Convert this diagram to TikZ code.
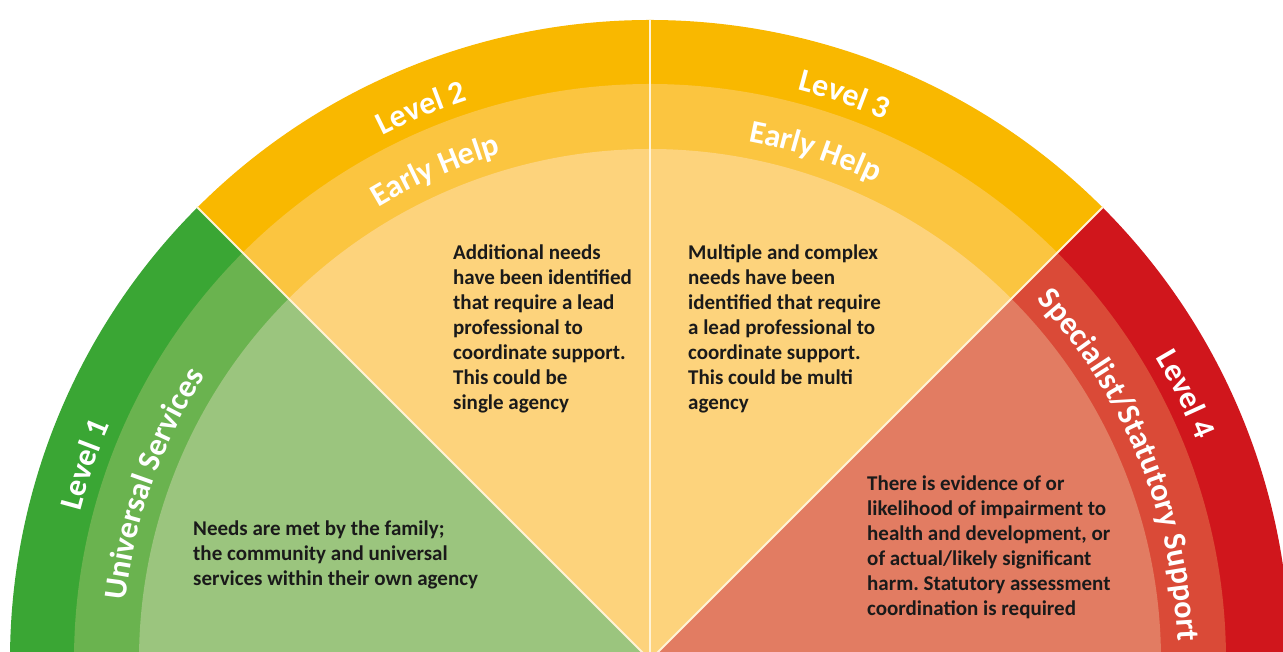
\documentclass[tikz,border=0pt]{standalone}
\usepackage{fontspec}
\setmainfont{Carlito}
\newfontfamily\bodyfont{Carlito}
\usetikzlibrary{decorations.text}

\definecolor{gOut}{HTML}{3AA634}
\definecolor{gMid}{HTML}{6AB34F}
\definecolor{gIn}{HTML}{9BC57E}
\definecolor{yOut}{HTML}{F9B800}
\definecolor{yMid}{HTML}{FBC540}
\definecolor{yIn}{HTML}{FDD37C}
\definecolor{rOut}{HTML}{D0161C}
\definecolor{rMid}{HTML}{DA4A37}
\definecolor{rIn}{HTML}{E27C62}
\definecolor{sepcol}{HTML}{FFF3D6}
\definecolor{bodycol}{HTML}{1A1A1A}

\newcommand\arclabel[3]{%
  \path[decorate, decoration={text along path, text align=center, text color=white,
    text={|\bodyfont\bfseries\fontsize{32}{34}\selectfont|#3}}]
    (C) ++(#1+34:#2pt) arc[start angle=#1+34, end angle=#1-34, radius=#2pt];}

\tikzset{
  bodytext/.style={font=\bodyfont\bfseries\fontsize{21}{25}\selectfont\frenchspacing, align=left,
    anchor=north west, inner sep=0pt, text=bodycol},
  sepline/.style={draw=sepcol, line width=2pt},
}

\begin{document}
\begin{tikzpicture}[x=1pt,y=1pt]
\path[use as bounding box] (0,0) rectangle (1283,652);
\fill[white] (0,0) rectangle (1283,652);
\clip (0,0) rectangle (1283,652);
\coordinate (C) at (650,-8);

\foreach \a/\b/\co/\cm/\ci in {135/181/gOut/gMid/gIn, 90/135/yOut/yMid/yIn, 45/90/yOut/yMid/yIn, -1/45/rOut/rMid/rIn}{
  \fill[\co] (C) -- ++(\a:640pt) arc[start angle=\a, end angle=\b, radius=640pt] -- cycle;
  \fill[\cm] (C) -- ++(\a:576pt) arc[start angle=\a, end angle=\b, radius=576pt] -- cycle;
  \fill[\ci] (C) -- ++(\a:511pt) arc[start angle=\a, end angle=\b, radius=511pt] -- cycle;
}

\path (C) ++(45:641pt) coordinate (e45);
\path (C) ++(90:641pt) coordinate (e90);
\path (C) ++(135:641pt) coordinate (e135);
\draw[sepline] (C) -- (e45);
\draw[sepline] (C) -- (e90);
\draw[sepline] (C) -- (e135);

% curved labels
\arclabel{160.9}{589}{Level 1}
\arclabel{160.5}{528}{Universal Services}
\arclabel{112.5}{589}{Level 2}
\arclabel{113.7}{528}{Early Help}
\arclabel{71}{589}{Level 3}
\arclabel{72}{528}{Early Help}
\arclabel{26.4}{589}{Level 4}
\arclabel{22.5}{528}{Specialist/Statutory Support}

% body texts
\node[bodytext] (t1) at (193,133) {\rule{0pt}{16pt}Needs are met by the family;\\the community and universal\\services within their own agency};
\node[bodytext] (t2) at (453,409) {\rule{0pt}{16pt}Additional needs\\have been identified\\that require a lead\\professional to\\coordinate support.\\This could be\\single agency};
\node[bodytext] (t3) at (688,409) {\rule{0pt}{16pt}Multiple and complex\\needs have been\\identified that require\\a lead professional to\\coordinate support.\\This could be multi\\agency};
\node[bodytext] (t4) at (867,178) {\rule{0pt}{16pt}There is evidence of or\\likelihood of impairment to\\health and development, or\\of actual/likely significant\\harm. Statutory assessment\\coordination is required};
\end{tikzpicture}
\end{document}
